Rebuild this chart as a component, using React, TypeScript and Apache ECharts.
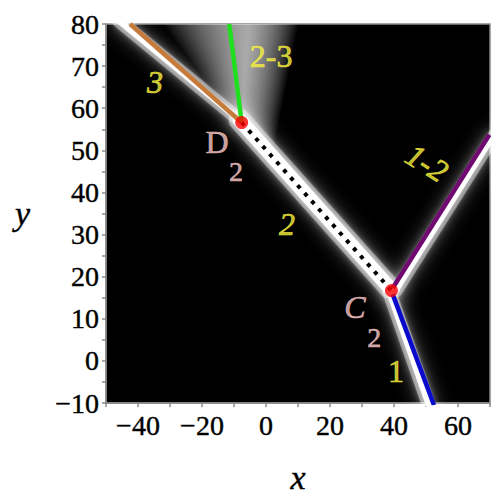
import React, { useEffect, useRef } from "react";
import * as echarts from "echarts";

// axis ranges
const xRange = [-50, 70];
const yRange = [-10, 80];

// coloured branches
const branch3 = [[-42.5, 80], [-7.6, 56.6]];
const branch23 = [[-11.5, 80], [-7.6, 56.6]];
const branch2 = [[-7.6, 56.6], [39.2, 16.7]];
const branch1 = [[39.6, 15.8], [52.5, -10.5]];
const branch12 = [[39.6, 17.3], [69.8, 53.7]];
const junctions = [[-7.6, 56.6], [39.2, 16.7]];

// bright ridges of the background field
const ridge3 = [[-46, 80.8], [-8.6, 57.4]];
const ridge2 = [[-8.2, 57.2], [38.6, 17.4]];
const ridge1 = [[38.4, 16.6], [50.9, -10.5]];
const ridge12 = [[40.6, 16.6], [71.4, 53.7]];
// diffuse glow around branch 2-3: centre line, left and right reach
const glowCentre = [[-5.5, 80], [-7.6, 56]];
const glowLeft = [[-32, 80], [-12, 59.5]];
const glowRight = [[10, 80], [2, 49]];

// annotations
const labelText = ["3", "2-3", "2", "1-2", "1"];
const labelPos = [[-34.7, 66.3], [1.6, 72.5], [6.6, 32.5], [50.3, 47], [40.6, -2.3]];
const labelItalic = [true, false, true, true, false];
const labelRot = [0, 0, 0, -32, 0];
const pinkText = ["D", "2", "C", "2"];
const pinkPos = [[-15.3, 52], [-9.4, 45], [27.8, 12.8], [33.8, 5.6]];
const pinkItalic = [false, false, true, false];
const pinkSize = [32, 28, 32, 28];

const FONT = "Liberation Serif";
const YELLOW = "#F8F040";
const PINK = "#F8C8C8";

function ridgeSeries(data: number[][], core: number) {
  return [
    {
      type: "line",
      data,
      symbol: "none",
      silent: true,
      z: 2,
      lineStyle: {
        color: "rgba(255,255,255,0.4)",
        width: core + 8,
        cap: "round",
        shadowBlur: 18,
        shadowColor: "rgba(255,255,255,0.95)",
      },
    },
    {
      type: "line",
      data,
      symbol: "none",
      silent: true,
      z: 2,
      lineStyle: {
        color: "#ffffff",
        width: core,
        cap: "round",
        shadowBlur: 8,
        shadowColor: "#ffffff",
      },
    },
  ];
}

function branch(data: number[][], color: string, width: number, extra: any = {}) {
  return {
    type: "line",
    data,
    symbol: "none",
    silent: true,
    z: 4,
    lineStyle: { color, width, cap: "butt", ...extra },
  };
}

const GLOW_STEPS = 30;

export default function App() {
  const ref = useRef<HTMLDivElement>(null);
  useEffect(() => {
    if (!ref.current) return;
    const chart = echarts.init(ref.current, null, { renderer: "svg" });
    const fmtNum = (v: number) => (v < 0 ? "\u2212" + Math.abs(v) : String(v));
    const axisCommon = {
      axisLine: { show: true, onZero: false, lineStyle: { color: "#8a8a8a", width: 1.5 } },
      axisTick: { show: true, length: 4, lineStyle: { color: "#8a8a8a", width: 1.5 } },
      splitLine: { show: false },
      nameTextStyle: {
        fontFamily: FONT,
        fontSize: 34,
        fontStyle: "italic",
        color: "#000",
        textBorderColor: "#000",
        textBorderWidth: 0.4,
      },
    };
    const tickLabel = {
      fontFamily: FONT,
      fontSize: 28,
      color: "#000",
      textBorderColor: "#000",
      textBorderWidth: 0.4,
    };
    const option: any = {
      animation: false,
      backgroundColor: "#ffffff",
      textStyle: { fontFamily: FONT },
      grid: {
        left: 106,
        right: 10,
        top: 24,
        bottom: 97,
        show: true,
        backgroundColor: "#000000",
        borderColor: "#8a8a8a",
        borderWidth: 1.5,
      },
      xAxis: {
        type: "value",
        min: xRange[0],
        max: xRange[1],
        interval: 10,
        name: "x",
        nameLocation: "middle",
        nameGap: 57,
        ...axisCommon,
        axisLabel: {
          ...tickLabel,
          margin: 8,
          formatter: (v: number) => (v % 20 === 0 ? fmtNum(v) : ""),
        },
      },
      yAxis: {
        type: "value",
        min: yRange[0],
        max: yRange[1],
        interval: 5,
        name: "y",
        nameLocation: "middle",
        nameRotate: 0,
        nameGap: 76,
        ...axisCommon,
        axisLabel: {
          ...tickLabel,
          margin: 7,
          formatter: (v: number) => (v % 10 === 0 ? fmtNum(v) : ""),
        },
      },
      series: [
        {
          type: "custom",
          silent: true,
          z: 1,
          clip: true,
          data: [0],
          renderItem: (_p: any, api: any) => {
            const children: any[] = [];
            for (let k = GLOW_STEPS; k >= 1; k--) {
              const f = k / GLOW_STEPS;
              const pts: number[][] = [];
              for (let j = 0; j < 2; j++) {
                const c = glowCentre[j];
                const l = glowLeft[j];
                pts.push([c[0] + (l[0] - c[0]) * f, c[1] + (l[1] - c[1]) * f]);
              }
              for (let j = 1; j >= 0; j--) {
                const c = glowCentre[j];
                const r = glowRight[j];
                pts.push([c[0] + (r[0] - c[0]) * f, c[1] + (r[1] - c[1]) * f]);
              }
              children.push({
                type: "polygon",
                shape: { points: pts.map((p) => api.coord(p)) },
                style: { fill: "rgba(255,255,255,0.038)" },
              });
            }
            return { type: "group", children };
          },
        },
        ...ridgeSeries(ridge3, 6),
        ...ridgeSeries(ridge2, 14),
        ...ridgeSeries(ridge1, 6),
        ...ridgeSeries(ridge12, 5),
        branch(branch3, "#C77B3A", 4.5),
        branch(branch23, "#1FE01F", 4.5),
        branch(branch1, "#0A0ACC", 4.5),
        branch(branch12, "#700A70", 4.5),
        branch(branch2, "#000000", 4, { type: [4, 6.5] }),
        {
          type: "scatter",
          data: junctions,
          symbolSize: 13,
          z: 5,
          silent: true,
          itemStyle: { color: "#FF0000" },
        },
        {
          type: "scatter",
          data: labelPos.map((p, i) => ({
            value: p,
            label: {
              show: true,
              position: "inside",
              formatter: labelText[i],
              fontFamily: FONT,
              fontSize: 32,
              fontStyle: labelItalic[i] ? "italic" : "normal",
              color: YELLOW,
              textBorderColor: YELLOW,
              textBorderWidth: 0.7,
              rotate: labelRot[i],
            },
          })),
          symbolSize: 1,
          z: 6,
          silent: true,
          itemStyle: { color: "rgba(0,0,0,0)" },
        },
        {
          type: "scatter",
          data: pinkPos.map((p, i) => ({
            value: p,
            label: {
              show: true,
              position: "inside",
              formatter: pinkText[i],
              fontFamily: FONT,
              fontSize: pinkSize[i],
              fontStyle: pinkItalic[i] ? "italic" : "normal",
              color: PINK,
              textBorderColor: PINK,
              textBorderWidth: 0.6,
            },
          })),
          symbolSize: 1,
          z: 6,
          silent: true,
          itemStyle: { color: "rgba(0,0,0,0)" },
        },
      ],
    };
    chart.setOption(option);
    return () => chart.dispose();
  }, []);
  return (
    <div
      ref={ref}
      style={{ position: "absolute", left: 0, top: 0, width: 500, height: 500 }}
    />
  );
}
